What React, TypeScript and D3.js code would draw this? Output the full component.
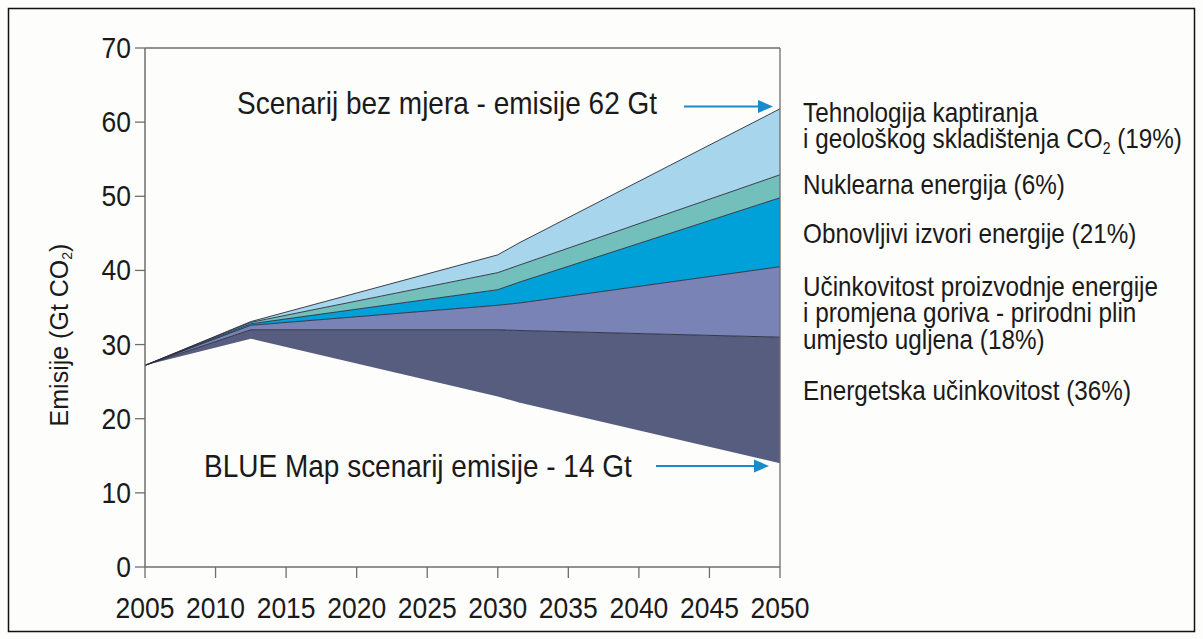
import React from "react";
import * as d3 from "d3";

// ---- data (Gt CO2) ----
const years = [2005, 2012.5, 2030, 2031.5, 2050];
const blueMap = [27.2, 30.8, 23.0, 22.2, 14.0];
const energetskaTop = [27.2, 32.0, 32.0, 31.9, 31.0];
const ucinkovitostTop = [27.2, 32.6, 35.3, 35.6, 40.5];
const obnovljiviTop = [27.2, 32.8, 37.4, 38.4, 49.8];
const nuklearnaTop = [27.2, 33.0, 39.7, 40.7, 52.9];
const ccsTop = [27.2, 33.1, 42.1, 43.7, 61.8];

const xTicks = [2005, 2010, 2015, 2020, 2025, 2030, 2035, 2040, 2045, 2050];
const yTicks = [0, 10, 20, 30, 40, 50, 60, 70];

const boundaries = [blueMap, energetskaTop, ucinkovitostTop, obnovljiviTop, nuklearnaTop, ccsTop];
const layerColors = ["#565d7f", "#7a83b6", "#00a1d8", "#72bfbc", "#a7d6ec"];

const legendLines: { lines: string[]; y: number }[] = [
  { lines: ["Tehnologija kaptiranja", "i geološkog skladištenja CO|2| (19%)"], y: 121 },
  { lines: ["Nuklearna energija (6%)"], y: 193 },
  { lines: ["Obnovljivi izvori energije (21%)"], y: 242 },
  { lines: ["Učinkovitost proizvodnje energije", "i promjena goriva - prirodni plin", "umjesto ugljena (18%)"], y: 295 },
  { lines: ["Energetska učinkovitost (36%)"], y: 399 },
];

const FONT = "'Liberation Sans', Arial, Helvetica, sans-serif";
const SY = 1.12;
const LINE_H = 26.5;

function T(props: { x: number; y: number; size: number; anchor?: string; children: React.ReactNode }) {
  return (
    <g transform={`translate(${props.x},${props.y}) scale(1,${SY})`}>
      <text x={0} y={0} fontSize={props.size} textAnchor={props.anchor || "start"} fill="#1a1a1a">
        {props.children}
      </text>
    </g>
  );
}

export default function App() {
  const x = d3.scaleLinear().domain([2005, 2050]).range([145, 780]);
  const y = d3.scaleLinear().domain([0, 70]).range([567, 48]);

  const layers = boundaries.slice(1).map((top, i) => {
    const bottom = boundaries[i];
    const area = d3
      .area<number>()
      .x((_, j) => x(years[j]))
      .y0((_, j) => y(bottom[j]))
      .y1((_, j) => y(top[j]));
    return area(years) as string;
  });
  const lineGen = (arr: number[]) =>
    d3
      .line<number>()
      .x((_, j) => x(years[j]))
      .y((_, j) => y(arr[j]))(years) as string;

  const renderLine = (s: string) => {
    const parts = s.split("|");
    if (parts.length === 1) return s;
    return (
      <>
        {parts[0]}
        <tspan fontSize="14" dy="4.5">{parts[1]}</tspan>
        <tspan dy="-4.5">{parts[2]}</tspan>
      </>
    );
  };

  const arrowColor = "#1a8ac8";
  const arrow = (x1: number, x2: number, yy: number) => (
    <g>
      <line x1={x1} x2={x2 - 12} y1={yy} y2={yy} stroke={arrowColor} strokeWidth={2} />
      <polygon points={`${x2},${yy} ${x2 - 15},${yy - 6.5} ${x2 - 15},${yy + 6.5}`} fill={arrowColor} />
    </g>
  );

  return (
    <svg
      width={1203}
      height={639}
      style={{ position: "absolute", left: 0, top: 0, background: "#fdfdfb" }}
      fontFamily={FONT}
    >
      <rect x={8.5} y={8.5} width={1186} height={623} fill="#fdfdfb" stroke="#111" strokeWidth={1.5} />

      {/* areas */}
      {layers.map((d, i) => (
        <path key={i} d={d} fill={layerColors[i]} />
      ))}
      {boundaries.slice(1).map((b, i) => (
        <path key={"l" + i} d={lineGen(b)} fill="none" stroke="#2b2d3c" strokeWidth={0.9} />
      ))}

      {/* frame */}
      <line x1={x(2005)} x2={x(2050)} y1={y(70)} y2={y(70)} stroke="#6e6e6e" strokeWidth={1.3} />
      <line x1={x(2050)} x2={x(2050)} y1={y(70)} y2={y(0)} stroke="#6e6e6e" strokeWidth={1.3} />
      <line x1={x(2005)} x2={x(2005)} y1={y(70)} y2={y(0)} stroke="#6e6e6e" strokeWidth={1.5} />
      <line x1={x(2005)} x2={x(2050)} y1={y(0)} y2={y(0)} stroke="#6e6e6e" strokeWidth={1.5} />

      {/* y ticks */}
      {yTicks.map((t) => (
        <g key={t}>
          <line x1={x(2005) - 10} x2={x(2005)} y1={y(t)} y2={y(t)} stroke="#6e6e6e" strokeWidth={1.3} />
          <T x={131} y={y(t) + 10} size={26.5} anchor="end">
            {t}
          </T>
        </g>
      ))}
      {/* x ticks */}
      {xTicks.map((t) => (
        <g key={t}>
          <line x1={x(t)} x2={x(t)} y1={y(0)} y2={y(0) + 11} stroke="#6e6e6e" strokeWidth={1.3} />
          <T x={x(t)} y={618} size={26.5} anchor="middle">
            {t}
          </T>
        </g>
      ))}

      {/* y axis title */}
      <g transform={`translate(68,335) rotate(-90)`}>
        <text textAnchor="middle" fontSize={25} fill="#1a1a1a">
          Emisije (Gt CO<tspan fontSize="14" dy="4">2</tspan>
          <tspan dy="-4">)</tspan>
        </text>
      </g>

      {/* annotations */}
      <T x={237} y={114} size={28}>
        Scenarij bez mjera - emisije 62 Gt
      </T>
      {arrow(684, 773, 106.5)}
      <T x={204} y={477} size={28}>
        BLUE Map scenarij emisije - 14 Gt
      </T>
      {arrow(656, 769, 466)}

      {/* legend */}
      {legendLines.map((g, i) => (
        <T key={i} x={803} y={g.y + 1} size={24.3}>
          {g.lines.map((l, k) => (
            <tspan key={k} x={0} y={(k * LINE_H) / SY}>
              {renderLine(l)}
            </tspan>
          ))}
        </T>
      ))}
    </svg>
  );
}
